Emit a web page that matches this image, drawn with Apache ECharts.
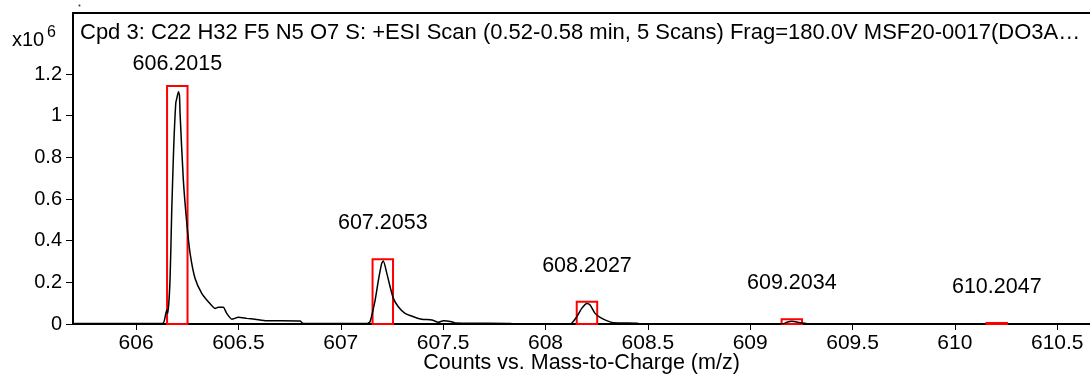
<!DOCTYPE html>
<html>
<head>
<meta charset="utf-8">
<script src="https://cdn.jsdelivr.net/npm/echarts@6/dist/echarts.min.js"></script>
<style>
  html, body { margin: 0; padding: 0; background: #fff; }
  #chart { width: 1090px; height: 375px; }
</style>
</head>
<body>
<div id="chart"></div>
<script>
// Profile spectrum: m/z and intensity (x10^6 counts)
const profileMz = [
  605.70, 606.10, 606.133, 606.150, 606.155, 606.166, 606.174, 606.184, 606.194, 606.199,
  606.207, 606.212, 606.215, 606.231, 606.248, 606.264, 606.288, 606.321, 606.353, 606.386,
  606.402, 606.426, 606.443, 606.468, 606.500, 606.541, 606.581, 606.638, 606.801, 606.817,
  607.130, 607.143, 607.168, 607.184, 607.200, 607.208, 607.225, 607.241, 607.257, 607.281,
  607.314, 607.355, 607.396, 607.445, 607.477, 607.501, 607.542, 607.558, 607.820, 607.840,
  608.120, 608.128, 608.153, 608.177, 608.202, 608.218, 608.242, 608.267, 608.299, 608.332,
  608.446, 608.460, 609.160, 609.179, 609.203, 609.244, 609.276, 609.530
];
const profileCounts = [
  0.002, 0.002, 0.004, 0.067, 0.051, 0.211, 0.531, 0.851, 1.060, 1.083,
  1.115, 1.099, 1.011, 0.691, 0.483, 0.339, 0.220, 0.147, 0.107, 0.075,
  0.080, 0.080, 0.051, 0.023, 0.032, 0.027, 0.023, 0.016, 0.014, 0.003,
  0.003, 0.011, 0.115, 0.211, 0.291, 0.302, 0.243, 0.179, 0.123, 0.083,
  0.051, 0.035, 0.023, 0.019, 0.008, 0.016, 0.011, 0.005, 0.003, 0.001,
  0.001, 0.004, 0.035, 0.075, 0.099, 0.091, 0.051, 0.032, 0.016, 0.006,
  0.004, 0.001, 0.001, 0.008, 0.013, 0.006, 0.002, 0.001
];

// Labelled isotope peaks and the heights of their marker boxes
const peakMz = [606.2015, 607.2053, 608.2027, 609.2034, 610.2047];
const peakLabels = ['606.2015', '607.2053', '608.2027', '609.2034', '610.2047'];
const peakBoxTop = [1.143, 0.311, 0.107, 0.0226, 0.005];

// Axis ticks
const xTicks = [606, 606.5, 607, 607.5, 608, 608.5, 609, 609.5, 610, 610.5];
const yTicks = [0, 0.2, 0.4, 0.6, 0.8, 1, 1.2];

const titleText = 'Cpd 3: C22 H32 F5 N5 O7 S: +ESI Scan (0.52-0.58 min, 5 Scans) Frag=180.0V MSF20-0017(DO3A\u2026';
const xName = 'Counts vs. Mass-to-Charge (m/z)';

const FONT = '"Liberation Sans", Arial, sans-serif';
const GRID = { left: 73, top: 13, right: 0, bottom: 51 };
const X_MIN = 605.692, X_MAX = 610.66;

const chart = echarts.init(document.getElementById('chart'), null, { renderer: 'canvas' });

const lineData = profileMz.map((m, i) => [m, profileCounts[i]]);
const boxData = peakMz.map((m, i) => [m, peakBoxTop[i], peakLabels[i]]);

chart.setOption({
  animation: false,
  backgroundColor: '#ffffff',
  grid: {
    left: GRID.left, top: GRID.top, right: GRID.right, bottom: GRID.bottom,
    containLabel: false, outerBoundsMode: 'none'
  },
  xAxis: [{
    type: 'value',
    min: X_MIN,
    max: X_MAX,
    name: xName,
    nameLocation: 'middle',
    nameGap: 28,
    nameMoveOverlap: false,
    nameTextStyle: { color: '#000', fontSize: 21.5, fontFamily: FONT },
    axisLine: { show: true, lineStyle: { color: '#000', width: 2 } },
    axisTick: { show: true, length: 6, customValues: xTicks, lineStyle: { color: '#000', width: 1 } },
    axisLabel: {
      customValues: xTicks,
      color: '#000', fontSize: 21, fontFamily: FONT, margin: 9,
      formatter: v => String(v)
    },
    splitLine: { show: false }
  }, {
    type: 'value',
    position: 'top',
    min: X_MIN,
    max: X_MAX,
    axisLine: { show: true, onZero: false, lineStyle: { color: '#000', width: 2 } },
    axisTick: { show: false },
    axisLabel: { show: false },
    splitLine: { show: false }
  }],
  yAxis: {
    type: 'value',
    min: 0,
    max: 1.493,
    axisLine: { show: true, lineStyle: { color: '#000', width: 2 } },
    axisTick: { show: true, length: 7, customValues: yTicks, lineStyle: { color: '#000', width: 1 } },
    axisLabel: {
      customValues: yTicks,
      color: '#000', fontSize: 20, fontFamily: FONT, margin: 11,
      formatter: v => String(+v.toFixed(1))
    },
    splitLine: { show: false }
  },
  graphic: [
    {
      type: 'text', left: 80, top: 22, z: 10,
      style: { text: titleText, fill: '#000', font: '22px ' + FONT }
    },
    {
      type: 'text', left: 12, top: 30, z: 10,
      style: { text: 'x10', fill: '#000', font: '20px ' + FONT }
    },
    {
      type: 'text', left: 47, top: 25, z: 10,
      style: { text: '6', fill: '#000', font: '16px ' + FONT }
    },
    {
      type: 'circle', shape: { cx: 79.5, cy: 5.5, r: 1 }, style: { fill: '#333' }, z: 10
    }
  ],
  series: [
    {
      type: 'custom',
      xAxisIndex: 0,
      z: 2,
      clip: false,
      data: boxData,
      renderItem: function (params, api) {
        const m = api.value(0), h = api.value(1);
        const p0 = api.coord([m - 0.05, h]);
        const p1 = api.coord([m + 0.05, 0]);
        const c = api.coord([m, h]);
        const labelY = Math.max(p0[1] - 36, GRID.top + 51);
        return {
          type: 'group',
          children: [
            {
              type: 'rect',
              shape: { x: p0[0], y: p0[1], width: p1[0] - p0[0], height: p1[1] - p0[1] },
              style: { fill: h < 0.01 ? '#ff0000' : 'none', stroke: '#ff0000', lineWidth: 2 }
            },
            {
              type: 'text',
              x: c[0], y: labelY,
              style: {
                text: peakLabels[params.dataIndex],
                fill: '#000', font: '21.5px ' + FONT,
                align: 'center', verticalAlign: 'middle'
              }
            }
          ]
        };
      }
    },
    {
      type: 'line',
      xAxisIndex: 0,
      z: 3,
      data: lineData,
      showSymbol: false,
      smooth: 0.2,
      lineStyle: { color: '#000', width: 1.5 },
      silent: true
    }
  ]
});
</script>
</body>
</html>
